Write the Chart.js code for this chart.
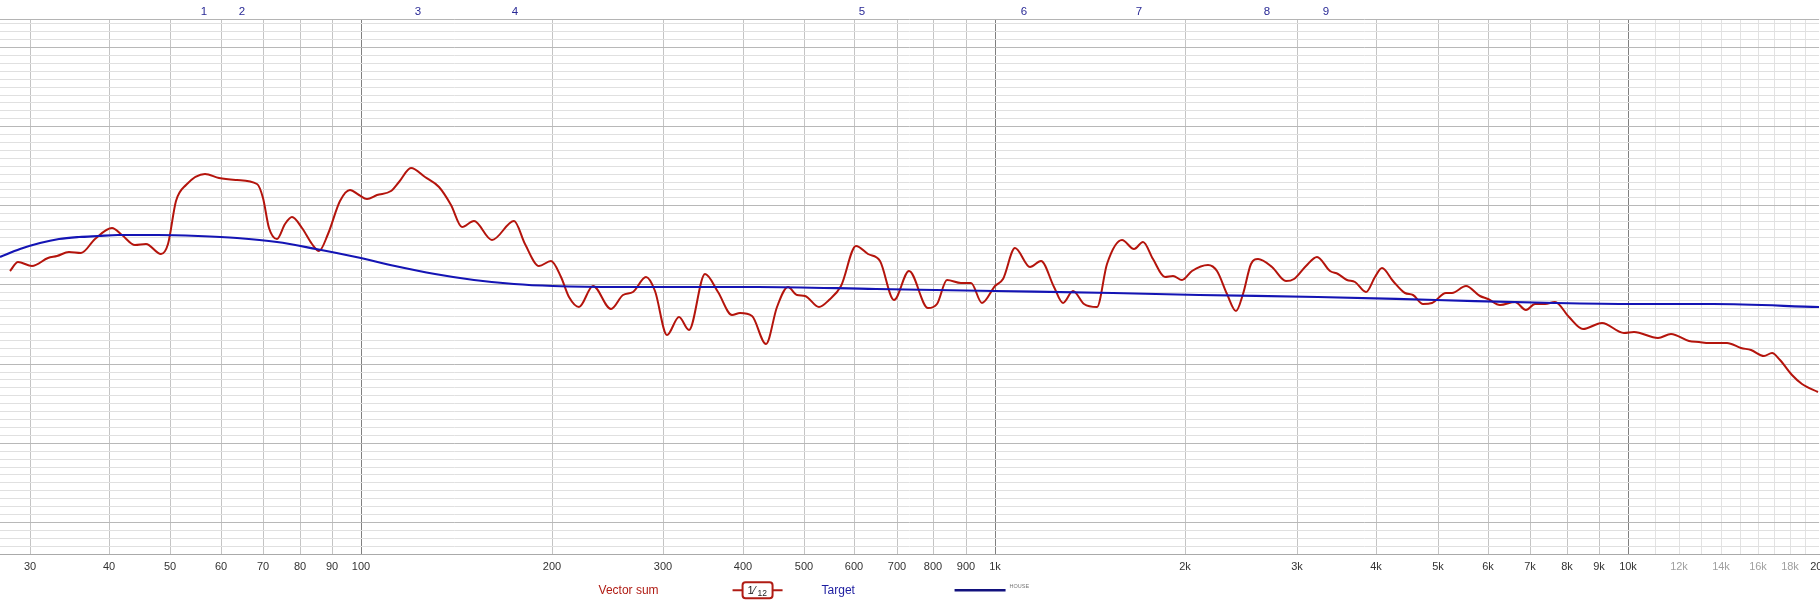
<!DOCTYPE html>
<html>
<head>
<meta charset="utf-8">
<script src="https://cdn.jsdelivr.net/npm/chart.js@4.4.0/dist/chart.umd.min.js"></script>
<style>
html, body { margin: 0; padding: 0; background: #fff; overflow: hidden; }
#wrap { position: relative; width: 1834px; height: 607px; }
</style>
</head>
<body>
<div id="wrap"><canvas id="chart"></canvas></div>
<script>
// measured response (Hz / dB)
const sumFreq = [27.9, 28.7, 30.2, 32.0, 33.1, 34.6, 36.1, 38.0, 40.5, 42.0, 43.9, 45.8, 48.4, 49.6, 51.0, 52.9, 56.8, 59.7, 63.7, 68.4,
  69.9, 71.5, 73.6, 75.7, 77.9, 80.7, 83.7, 85.9, 88.6, 92.5, 95.9, 99.4, 102.3, 106.1, 111.5, 114.8, 119.8, 126.0, 132.6, 138.4,
  144.4, 150.8, 160.9, 174.1, 181.7, 191.1, 199.5, 206.9, 212.9, 220.7, 232.1, 247.6, 259.3, 268.8, 281.8, 290.8, 303.6, 317.0, 328.6, 349.5,
  365.9, 384.8, 396.0, 413.5, 436.0, 453.9, 472.5, 487.6, 501.8, 527.7, 547.0, 571.1, 604.9, 631.5, 659.3, 693.3, 731.2, 783.4, 812.0, 841.8,
  885.1, 917.5, 955.0, 1000, 1029, 1078, 1138, 1184, 1240, 1280, 1329, 1381, 1448, 1506, 1588, 1658, 1714, 1776, 1859, 1908,
  1978, 2050, 2170, 2243, 2325, 2403, 2462, 2534, 2600, 2742, 2884, 2968, 3098, 3226, 3378, 3475, 3602, 3707, 3854, 3984,
  4082, 4250, 4436, 4566, 4733, 4906, 5158, 5271, 5539, 5828, 5998, 6262, 6613, 6884, 7124, 7385, 7656, 8051, 8466, 9095,
  9843, 10201, 11120, 11695, 12479, 12935, 13407, 14302, 15038, 15587, 16344, 16866, 17357, 18126, 18789, 19893];
const sumDb = [71.74, 72.79, 72.37, 73.29, 73.54, 74.12, 74.04, 75.70, 77.08, 76.24, 74.99, 75.08, 73.91, 75.08, 80.49, 82.58, 83.95, 83.41, 83.20, 82.66,
  80.91, 77.16, 75.70, 77.58, 78.54, 77.16, 75.08, 74.24, 76.33, 80.49, 81.95, 81.33, 80.83, 81.33, 81.83, 82.99, 84.66, 83.62, 82.37, 80.08,
  77.29, 78.08, 75.58, 78.08, 75.08, 72.37, 72.99, 70.91, 68.41, 67.16, 69.87, 66.90, 68.62, 69.04, 70.91, 69.24, 63.62, 65.83, 64.24, 71.33,
  69.04, 66.12, 66.45, 66.04, 62.49, 67.16, 69.74, 68.62, 68.49, 67.16, 67.99, 69.87, 74.87, 73.91, 72.99, 67.99, 71.66, 67.04, 67.58, 70.58,
  70.16, 70.24, 67.66, 69.87, 70.70, 74.66, 72.16, 72.91, 69.66, 67.66, 69.24, 67.49, 67.16, 72.58, 75.62, 74.54, 75.41, 73.20, 70.91, 71.08,
  70.62, 71.66, 72.45, 71.74, 68.83, 66.66, 68.83, 72.58, 73.16, 72.16, 70.49, 70.70, 72.37, 73.41, 71.66, 71.33, 70.58, 70.29, 69.04, 70.91,
  72.04, 70.49, 68.91, 68.62, 67.58, 67.66, 68.95, 68.91, 69.83, 68.49, 68.20, 67.41, 67.83, 66.83, 67.49, 67.49, 67.74, 65.91, 64.41, 65.16,
  63.83, 63.95, 63.20, 63.74, 62.87, 62.70, 62.58, 62.62, 61.95, 61.74, 60.99, 61.33, 60.49, 58.62, 57.37, 56.45];

// target curve
const targetFreq = [26.9, 28.9, 31.1, 33.4, 35.9, 38.5, 41.4, 47.8, 55.2, 63.7, 73.6, 84.9, 98.0, 113.2, 130.6, 150.8, 174.1, 201.0, 255.9, 422.6,
  649.8, 1000, 1539, 2102, 3234, 4977, 7656, 10201, 13600, 19980];
const targetDb = [73.41, 74.54, 75.29, 75.74, 76.04, 76.16, 76.24, 76.24, 76.16, 75.91, 75.37, 74.54, 73.49, 72.37, 71.33, 70.58, 70.08, 69.87, 69.74, 69.66,
  69.45, 69.24, 68.91, 68.72, 68.41, 68.08, 67.70, 67.58, 67.49, 67.16];

// filter markers along the top
const markerLabels = ["1", "2", "3", "4", "5", "6", "7", "8", "9"];
const markerFreq = [56.4, 64.8, 122.8, 175.2, 618.4, 1113, 1687, 2688, 3334];

// frequency axis
const xTickValues = [30, 40, 50, 60, 70, 80, 90, 100, 200, 300, 400, 500, 600, 700, 800, 900,
  1000, 2000, 3000, 4000, 5000, 6000, 7000, 8000, 9000, 10000, 11000, 12000, 13000, 14000, 15000, 16000, 17000, 18000, 19000, 20000];
const xTickLabels = ["30", "40", "50", "60", "70", "80", "90", "100", "200", "300", "400", "500", "600", "700", "800", "900",
  "1k", "2k", "3k", "4k", "5k", "6k", "7k", "8k", "9k", "10k", "", "12k", "", "14k", "", "16k", "", "18k", "", "20k"];

const xMin = 26.92, xMax = 20000;
const yMin = 35.85, yMax = 103.54;

function toPoints(xs, ys) {
  return xs.map((x, i) => ({ x: x, y: ys[i] }));
}

const legendPlugin = {
  id: "legendAndMarkers",
  afterDraw(chart) {
    const ctx = chart.ctx;
    const area = chart.chartArea;
    const xs = chart.scales.x;
    ctx.save();

    // markers
    ctx.font = "11.5px 'Liberation Sans', Arial, sans-serif";
    ctx.fillStyle = "#2a2a96";
    ctx.textAlign = "center";
    ctx.textBaseline = "middle";
    markerLabels.forEach((m, i) => {
      ctx.fillText(m, xs.getPixelForValue(markerFreq[i]), area.top - 7);
    });

    // legend
    const cx = (area.left + area.right) / 2;
    const ly = area.bottom + 35.5;
    ctx.textAlign = "left";
    ctx.font = "12px 'Liberation Sans', Arial, sans-serif";
    ctx.fillStyle = "#b01c14";
    ctx.fillText("Vector sum", cx - 311, ly);

    ctx.strokeStyle = "#b01c14";
    ctx.lineWidth = 2;
    ctx.beginPath();
    ctx.moveTo(cx - 177, ly);
    ctx.lineTo(cx - 127, ly);
    ctx.stroke();
    ctx.fillStyle = "#fff";
    ctx.beginPath();
    ctx.roundRect(cx - 167, ly - 8, 30, 16, 3);
    ctx.fill();
    ctx.stroke();
    ctx.fillStyle = "#222";
    ctx.font = "11px 'Liberation Sans', Arial, sans-serif";
    ctx.textBaseline = "alphabetic";
    ctx.fillText("1", cx - 162, ly + 4);
    ctx.fillText("\u2044", cx - 156, ly + 4);
    ctx.font = "8.5px 'Liberation Sans', Arial, sans-serif";
    ctx.fillText("12", cx - 152, ly + 6);

    ctx.textBaseline = "middle";
    ctx.font = "12px 'Liberation Sans', Arial, sans-serif";
    ctx.fillStyle = "#1c1ca0";
    ctx.fillText("Target", cx - 88, ly);

    ctx.strokeStyle = "#12127e";
    ctx.lineWidth = 2.5;
    ctx.beginPath();
    ctx.moveTo(cx + 45, ly);
    ctx.lineTo(cx + 96, ly);
    ctx.stroke();
    ctx.font = "5.5px 'Liberation Sans', Arial, sans-serif";
    ctx.fillStyle = "#777";
    ctx.fillText("HOUSE", cx + 100, ly - 3.5);

    ctx.restore();
  }
};

new Chart(document.querySelector("#chart"), {
  type: "line",
  data: {
    datasets: [{
      label: "Target",
      data: toPoints(targetFreq, targetDb),
      borderColor: "#1414b4",
      borderWidth: 2.2,
      pointRadius: 0,
      cubicInterpolationMode: "monotone",
      fill: false
    }, {
      label: "Vector sum",
      data: toPoints(sumFreq, sumDb),
      borderColor: "#b4140c",
      borderWidth: 2,
      pointRadius: 0,
      cubicInterpolationMode: "monotone",
      fill: false
    }]
  },
  options: {
    responsive: true,
    maintainAspectRatio: false,
    animation: false,
    layout: { padding: { top: 19, left: 0, right: 14, bottom: 27 } },
    plugins: {
      legend: { display: false },
      tooltip: { enabled: false }
    },
    scales: {
      x: {
        type: "logarithmic",
        min: xMin,
        max: xMax,
        alignToPixels: true,
        afterBuildTicks: (s) => { s.ticks = xTickValues.map(v => ({ value: v })); },
        border: { display: true, color: "#aaaaaa" },
        grid: {
          drawTicks: false,
          color: (c) => {
            const v = c.tick ? c.tick.value : 0;
            if (v === 100 || v === 1000 || v === 10000) return "#808080";
            if (v >= 20000) return "rgba(0,0,0,0)";
            if (v > 10000) return "#e2e2e2";
            return "#c4c4c4";
          }
        },
        ticks: {
          padding: 6,
          autoSkip: false,
          maxRotation: 0,
          font: { family: "'Liberation Sans', Arial, sans-serif", size: 11 },
          color: (c) => (c.tick && c.tick.value > 10000 && c.tick.value < 20000) ? "#a0a0a0" : "#333333",
          callback: (v, i) => xTickLabels[i]
        }
      },
      y: {
        min: yMin,
        max: yMax,
        alignToPixels: true,
        afterBuildTicks: (s) => {
          const t = [];
          for (let v = 36; v <= 103; v++) t.push({ value: v });
          t.push({ value: yMax });
          s.ticks = t;
        },
        border: { display: false },
        grid: {
          drawTicks: false,
          color: (c) => {
            const v = c.tick ? c.tick.value : 0;
            if (v === yMax) return "#b4b4b4";
            return v % 10 === 0 ? "#b8b8b8" : "#e0e0e0";
          }
        },
        ticks: { display: false }
      }
    }
  },
  plugins: [legendPlugin]
});
</script>
</body>
</html>
